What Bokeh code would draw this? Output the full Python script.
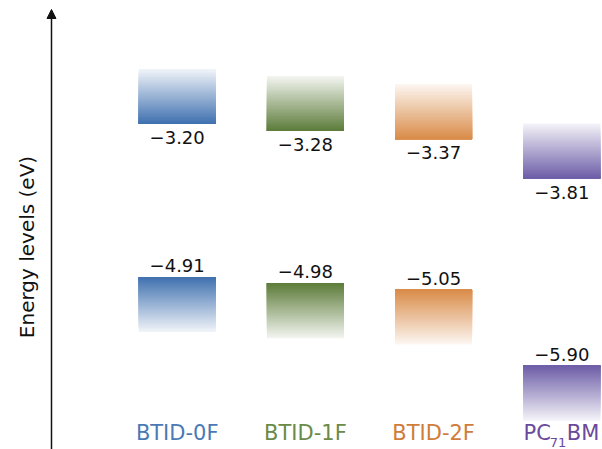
import numpy as np
from bokeh.plotting import figure
from bokeh.models import Range1d, Arrow, NormalHead, ColumnDataSource
from bokeh.core.properties import value
from bokeh.embed import file_html
from bokeh.resources import INLINE

# ---- data ----
materials = ["BTID-0F", "BTID-1F", "BTID-2F", "PC71BM"]
lumo = [-3.20, -3.28, -3.37, -3.81]
homo = [-4.91, -4.98, -5.05, -5.90]
bar_colors = ["#3f70af", "#5c7b39", "#d98b48", "#6c5ca6"]
label_colors = ["#4a7ab5", "#6a8a48", "#d07c3a", "#6a4a9c"]
y_title = "Energy levels (eV)"

# ---- layout / style constants ----
FONT = "DejaVu Sans"
BAR_W = 0.6
BAR_H = 0.615
N_SLICES = 40
X0, X1 = -1.3783, 3.3175
Y0, Y1 = -6.8376, -1.8209
X_AXIS, Y_TIP = -0.9805, -1.9215
X_TITLE, Y_TITLE = -1.1677, -4.575


def mix(hexc, t):
    rgb = [int(hexc[i:i + 2], 16) for i in (1, 3, 5)]
    return "#%02x%02x%02x" % tuple(int(round(255 + (c - 255) * t)) for c in rgb)


idx = list(range(len(materials)))

p = figure(width=602, height=449, x_range=Range1d(X0, X1), y_range=Range1d(Y0, Y1),
           output_backend="svg", toolbar_location=None,
           x_axis_location=None, y_axis_location=None,
           min_border=0)
p.grid.visible = False
p.outline_line_color = None
p.background_fill_color = "white"

# gradient bars: nested quads, lightest (largest) first, darker ones on top
rows = dict(left=[], right=[], bottom=[], top=[], color=[])
for k in reversed(range(N_SLICES)):
    f0, f1 = k / N_SLICES, (k + 1) / N_SLICES
    t = 1 - 0.93 * ((f0 + f1) / 2)
    for i, lu, ho, col in zip(idx, lumo, homo, bar_colors):
        c = mix(col, t)
        # LUMO: from level upward
        rows["left"].append(i - BAR_W / 2); rows["right"].append(i + BAR_W / 2)
        rows["bottom"].append(lu); rows["top"].append(lu + f1 * BAR_H)
        rows["color"].append(c)
        # HOMO: from level downward
        rows["left"].append(i - BAR_W / 2); rows["right"].append(i + BAR_W / 2)
        rows["bottom"].append(ho - f1 * BAR_H); rows["top"].append(ho)
        rows["color"].append(c)
p.quad(left="left", right="right", bottom="bottom", top="top", source=ColumnDataSource(rows),
       fill_color="color", line_color=None)

fmt = lambda v: "\u2212%.2f" % abs(v)
p.text(x=idx, y=lumo, text=[fmt(v) for v in lumo], text_align="center", text_baseline="top",
       y_offset=7, text_font=value(FONT), text_font_size="18px", text_color="#111111")
p.text(x=idx, y=homo, text=[fmt(v) for v in homo], text_align="center", text_baseline="bottom",
       y_offset=-5, text_font=value(FONT), text_font_size="18px", text_color="#111111")

# category labels
p.text(x=idx[:3], y=[Y0] * 3, text=materials[:3], text_align="center", text_baseline="bottom",
       y_offset=-5, text_color=label_colors[:3], text_font=value(FONT), text_font_size="21px")
# PC71BM with subscript
p.text(x=[idx[3]], y=[Y0], text=["PC"], text_align="right", text_baseline="bottom",
       x_offset=-11, y_offset=-5, text_color=label_colors[3], text_font=value(FONT), text_font_size="21px")
p.text(x=[idx[3]], y=[Y0], text=["71"], text_align="left", text_baseline="bottom",
       x_offset=-12, y_offset=-3, text_color=label_colors[3], text_font=value(FONT), text_font_size="13px")
p.text(x=[idx[3]], y=[Y0], text=["BM"], text_align="left", text_baseline="bottom",
       x_offset=5, y_offset=-5, text_color=label_colors[3], text_font=value(FONT), text_font_size="21px")

# axis arrow and title
p.add_layout(Arrow(end=NormalHead(size=9, fill_color="#111111", line_color="#111111", line_width=1),
                   x_start=X_AXIS, y_start=Y0, x_end=X_AXIS, y_end=Y_TIP,
                   line_color="#111111", line_width=1.5))
p.text(x=[X_TITLE], y=[Y_TITLE], text=[y_title], angle=np.pi / 2, text_align="center",
       text_baseline="middle", text_font=value(FONT), text_font_size="20px", text_color="#111111")

open("out.html", "w").write(file_html(p, INLINE))
